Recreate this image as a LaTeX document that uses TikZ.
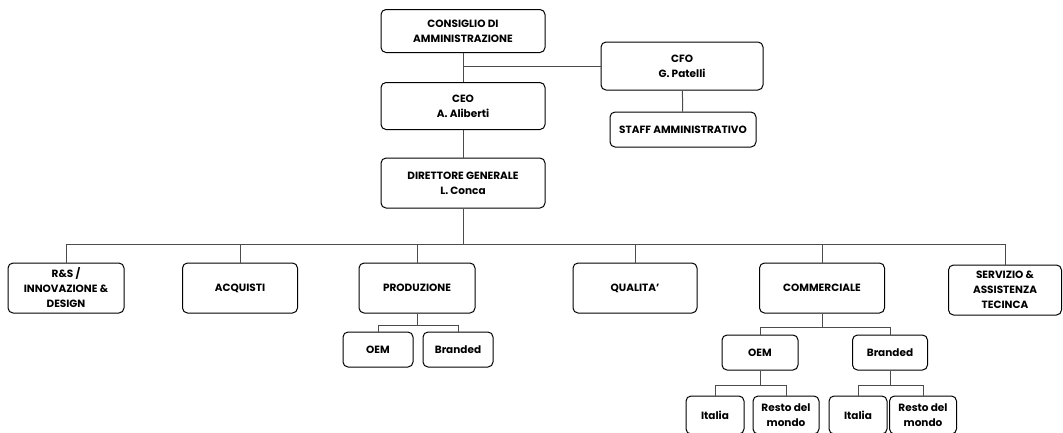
\documentclass[tikz,border=0pt]{standalone}
\usepackage{fontspec}
\setmainfont{Poppins}
\usetikzlibrary{shapes}
\tikzstyle{box}=[draw,rounded corners=5pt,line width=1pt,align=center,font=\bfseries\fontsize{10.5}{15}\selectfont,inner sep=2pt]

\begin{document}
\begin{tikzpicture}[x=1pt,y=-1pt]
    \tikzstyle{link}=[draw=black!70,line width=1pt]
    \useasboundingbox (0,0) rectangle (1063,432);
    % top of the chart
    \node[box,minimum width=164,minimum height=43] (CDA) at (463,31) {CONSIGLIO DI\\AMMINISTRAZIONE};
    \node[box,minimum width=162,minimum height=48] (CFO) at (682,66) {CFO\\G. Patelli};
    \node[box,minimum width=164,minimum height=47] (CEO) at (463,106) {CEO\\A. Aliberti};
    \node[box,minimum width=146,minimum height=35] (STAFF) at (683,129.5) {STAFF AMMINISTRATIVO};
    \node[box,minimum width=164,minimum height=50] (DG) at (463,183) {DIRETTORE GENERALE\\L. Conca};
    \draw[link] (CDA) -- (CEO);
    \draw[link] (CFO.west) -- (CFO.west -| CDA.south);
    \draw[link] (CFO) -- (STAFF);
    \draw[link] (CEO) -- (DG);
    % departments
    \coordinate (bus) at (463,244);
    \node[box,minimum width=116,minimum height=50] (RS) at (66,288) {R\&S /\\INNOVAZIONE \&\\DESIGN};
    \node[box,minimum width=115,minimum height=50] (ACQ) at (240,288) {ACQUISTI};
    \node[box,minimum width=116,minimum height=50] (PROD) at (417,288) {PRODUZIONE};
    \node[box,minimum width=124,minimum height=50] (QUAL) at (635,288) {QUALITA'};
    \node[box,minimum width=125,minimum height=50] (COMM) at (822,288) {COMMERCIALE};
    \node[box,minimum width=113,minimum height=50] (SERV) at (1005,290) {SERVIZIO \&\\ASSISTENZA\\TECINCA};
    \draw[link] (DG) -- (bus);
    \draw[link] (RS.north) -- (RS.north |- bus) -| (SERV.north);
    \foreach \n in {ACQ,PROD,QUAL,COMM}
        \draw[link] (\n.north) -- (\n.north |- bus);
    % produzione
    \node[box,minimum width=70,minimum height=35] (OEMa) at (378,349.5) {OEM};
    \node[box,minimum width=70,minimum height=35] (BRa) at (458,349.5) {Branded};
    \draw[link] (PROD.south) -- ++(0,12) coordinate (pj);
    \draw[link] (OEMa.north) |- (pj) -| (BRa.north);
    % commerciale
    \node[box,minimum width=76,minimum height=35] (OEMb) at (760,352.5) {OEM};
    \node[box,minimum width=75,minimum height=35] (BRb) at (890,352.5) {Branded};
    \draw[link] (COMM.south) -- ++(0,14) coordinate (cj);
    \draw[link] (OEMb.north) |- (cj) -| (BRb.north);
    \node[box,minimum width=58,minimum height=38] (ITa) at (715,415) {Italia};
    \node[box,minimum width=66,minimum height=38] (RMa) at (786,415) {Resto del\\mondo};
    \node[box,minimum width=58,minimum height=38] (ITb) at (858,415) {Italia};
    \node[box,minimum width=67,minimum height=38] (RMb) at (923,415) {Resto del\\mondo};
    \draw[link] (OEMb.south) -- ++(0,15) coordinate (oj);
    \draw[link] (ITa.north) |- (oj) -| (RMa.north);
    \draw[link] (BRb.south) -- ++(0,15) coordinate (bj);
    \draw[link] (ITb.north) |- (bj) -| (RMb.north);
\end{tikzpicture}
\end{document}
